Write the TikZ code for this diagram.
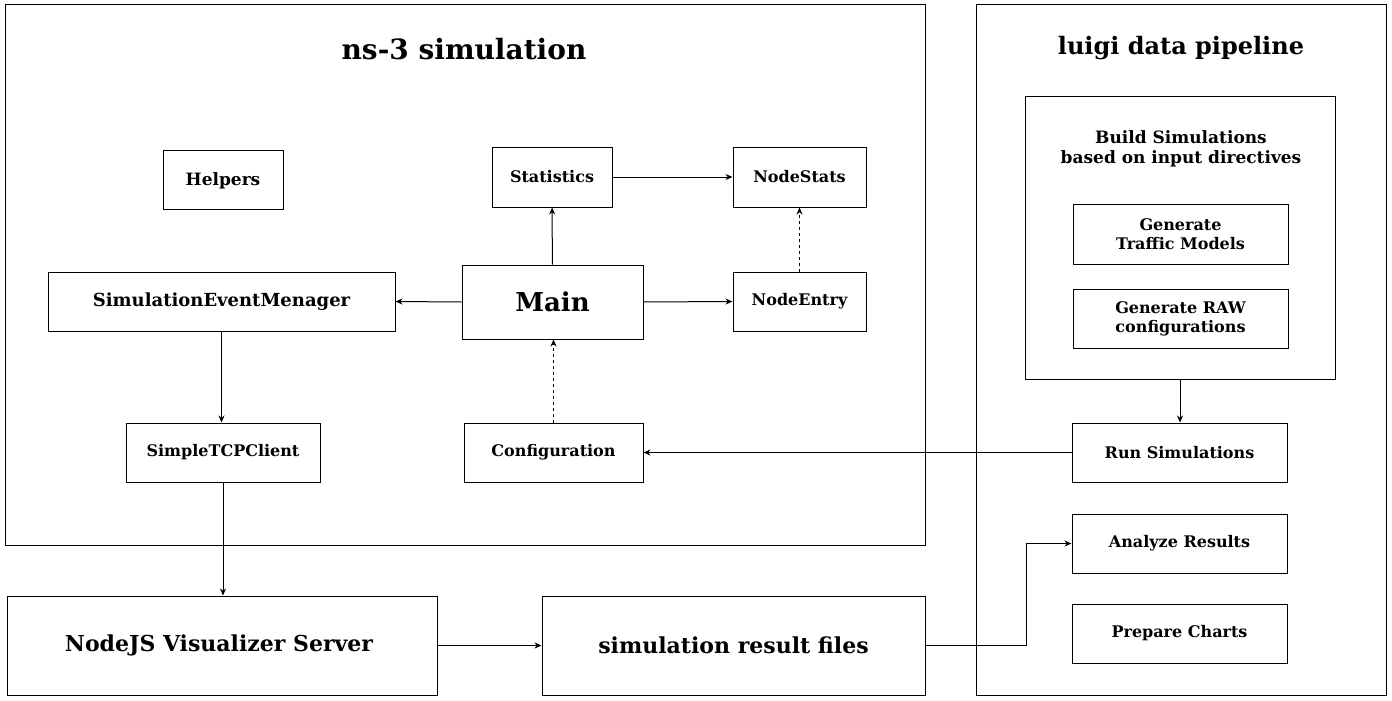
\documentclass[tikz,border=0pt]{standalone}
\usepackage{fontspec}
\setmainfont{DejaVu Serif}[BoldFont={DejaVu Serif Bold}]
\usetikzlibrary{arrows.meta}
\begin{document}
\begin{tikzpicture}[x=1pt,y=-1pt,
  box/.style={draw=black,line width=1pt,inner sep=0pt,font=\bfseries\fontsize{16}{19}\selectfont,align=center},
  frame/.style={draw=black,line width=1pt},
  arr/.style={draw=black,line width=1pt,-{Stealth[length=7pt,width=6pt]}},
  darr/.style={arr,dash pattern=on 3pt off 3pt}]
\useasboundingbox (0,0) rectangle (1392,701);
% frames
\draw[frame] (5,5) rectangle (925,545);
\draw[frame] (976,5) rectangle (1386,695);
\node[font=\bfseries\fontsize{28}{32}\selectfont] (t1) at (464,49) {ns-3 simulation};
\node[font=\bfseries\fontsize{24}{28}\selectfont] (t2) at (1181,48) {luigi data pipeline};
% build box
\node[box,minimum width=310pt,minimum height=283pt] (build) at (1180,237.5) {};
\node[font=\bfseries\fontsize{17}{20}\selectfont,align=center] (buildlbl) at (1181,149) {Build Simulations\\based on input directives};
% ns-3 nodes
\node[box,minimum width=120pt,minimum height=59pt,font=\bfseries\fontsize{17}{20}\selectfont,text depth=1pt] (helpers) at (223,179.5) {Helpers};
\node[box,minimum width=120pt,minimum height=60pt] (stat) at (552,177) {Statistics};
\node[box,minimum width=133pt,minimum height=60pt] (nstats) at (799.5,177) {NodeStats};
\node[box,minimum width=347pt,minimum height=59pt,font=\bfseries\fontsize{18}{21}\selectfont] (sem) at (221.5,301.5) {SimulationEventMenager};
\node[box,minimum width=181pt,minimum height=74pt,font=\bfseries\fontsize{26}{30}\selectfont] (main) at (552.5,302) {\raisebox{-2pt}{Main}};
\node[box,minimum width=133pt,minimum height=59pt] (nentry) at (799.5,301.5) {NodeEntry};
\node[box,minimum width=194pt,minimum height=59pt] (tcp) at (223,452.5) {SimpleTCPClient};
\node[box,minimum width=179pt,minimum height=59pt] (conf) at (553.5,452.5) {Configuration};
% bottom
\node[box,minimum width=430pt,minimum height=99pt,font=\bfseries\fontsize{22}{26}\selectfont] (nodejs) at (222,645.5) {\hspace*{-6pt}NodeJS Visualizer Server};
\node[box,minimum width=383pt,minimum height=99pt,font=\bfseries\fontsize{22}{26}\selectfont] (res) at (733.5,645.5) {simulation result files};
% luigi nodes
\node[box,minimum width=215pt,minimum height=60pt,font=\bfseries\fontsize{16}{19}\selectfont] (gtm) at (1180.5,234) {Generate\\Traffic Models};
\node[box,minimum width=215pt,minimum height=59pt,font=\bfseries\fontsize{16}{19}\selectfont] (graw) at (1180.5,318.5) {Generate RAW\\configurations};
\node[box,minimum width=215pt,minimum height=59pt] (run) at (1179.5,452.5) {Run Simulations};
\node[box,minimum width=215pt,minimum height=59pt] (ana) at (1179.5,543.5) {Analyze Results};
\node[box,minimum width=215pt,minimum height=59pt] (prep) at (1179.5,633.5) {Prepare Charts};
\coordinate (bend) at (1026,645.5);
% connectors
\draw[arr] (main) -- (stat);
\draw[arr] (stat) -- (nstats);
\draw[arr] (main.west) -- (sem.east);
\draw[arr] (main.east) -- (nentry.west);
\draw[darr] (nentry) -- (nstats);
\draw[darr] (conf.north) -- (conf.north |- main.south);
\draw[arr] (sem.south) -- (tcp.north -| sem.south);
\draw[arr] (tcp.south) -- (nodejs.north -| tcp.south);
\draw[arr] (nodejs.east) -- (res.west);
\draw[arr] (res.east) -- (bend) |- (ana.west);
\draw[arr] (build.south) -- (run.north -| build.south);
\draw[arr] (run.west) -- (conf.east |- run.west);
\end{tikzpicture}
\end{document}
